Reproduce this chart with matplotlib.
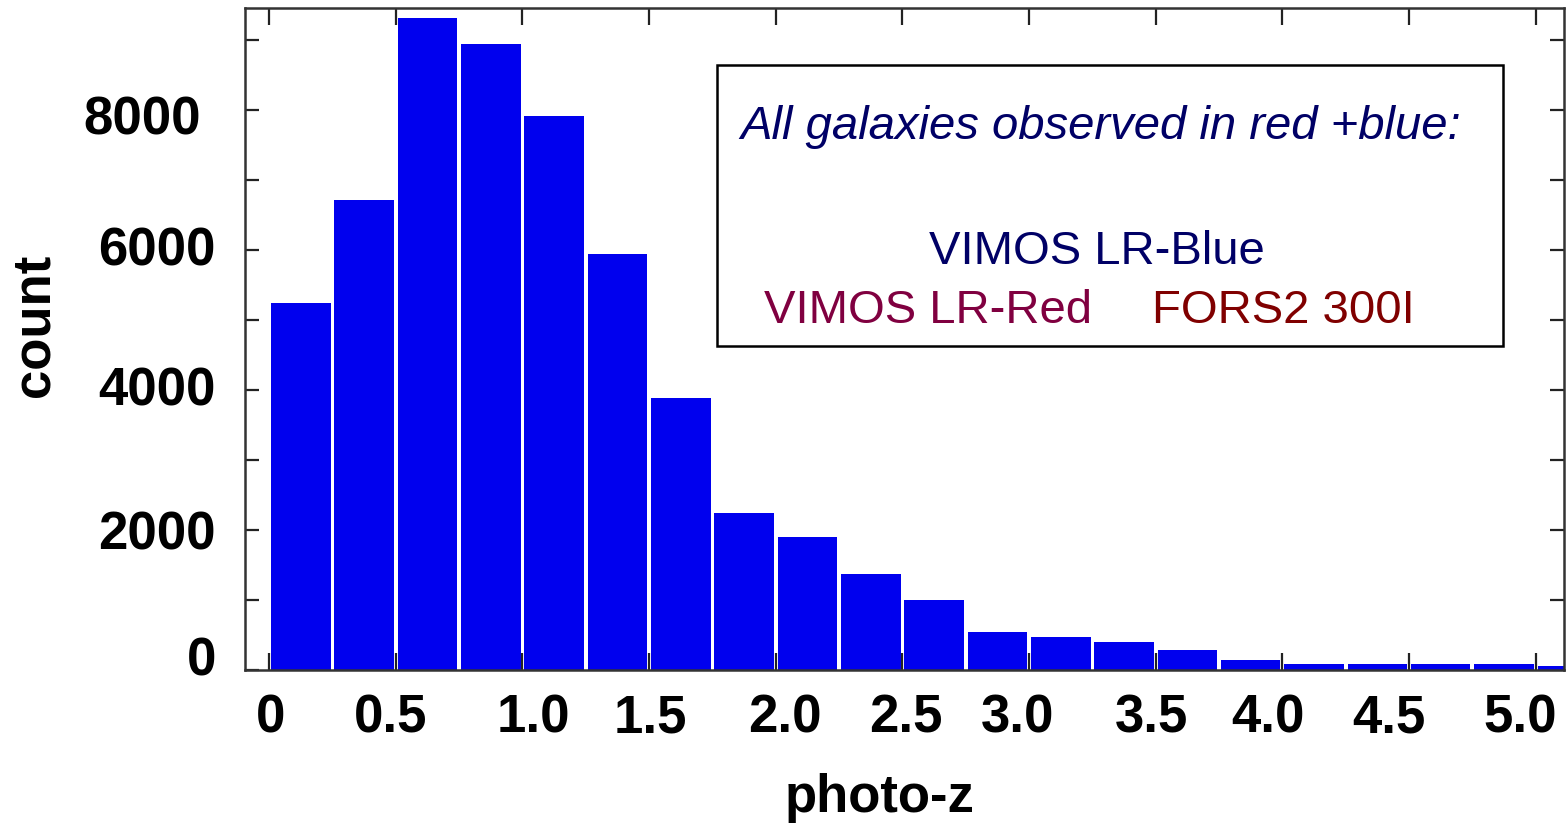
import numpy as np
import matplotlib
matplotlib.use('Agg')
import matplotlib.pyplot as plt
from matplotlib.ticker import MultipleLocator, FuncFormatter
from matplotlib.transforms import ScaledTranslation

plt.rcParams['font.family'] = ['Liberation Sans', 'DejaVu Sans']

# Photo-z histogram, bins of 0.25
bin_left = np.arange(0, 5.25, 0.25)
counts = [5240, 6710, 9320, 8950, 7920, 5950, 3890, 2250, 1900, 1370,
          1000, 540, 470, 400, 290, 140, 90, 90, 90, 90, 60]

x_ticks = [0, 0.5, 1.0, 1.5, 2.0, 2.5, 3.0, 3.5, 4.0, 4.5, 5.0]
x_tick_labels = ['0', '0.5', '1.0', '1.5', '2.0', '2.5', '3.0', '3.5', '4.0', '4.5', '5.0']

box_title = 'All galaxies observed in red +blue:'
grism_names = ['VIMOS LR-Blue', 'VIMOS LR-Red', 'FORS2 300I']
grism_colors = ['#000066', '#800040', '#800000']

fig = plt.figure(figsize=(15.68, 8.27), dpi=100)
ax = fig.add_axes([0.1563, 0.1898, 0.8412, 0.8005])

bin_w = 0.25
ax.bar(bin_left + bin_w / 2, counts, width=0.235, color='#0000EE',
       edgecolor='none', zorder=2)

ax.set_xlim(-0.095, 5.112)
ax.set_ylim(0, 9457)

ax.set_xticks(x_ticks)
ax.set_xticklabels(x_tick_labels)
ax.yaxis.set_major_locator(MultipleLocator(1000))
ax.yaxis.set_major_formatter(FuncFormatter(lambda v, p: f'{v:.0f}' if int(round(v)) % 2000 == 0 else ''))

ax.tick_params(axis='both', direction='in', right=True,
               length=10, width=1.6, color='#222222')
ax.tick_params(axis='x', top=True, length=12, labelsize=38, pad=17)
ax.tick_params(axis='y', labelsize=38, pad=21)

# hand-placed look of the tick labels (pixel nudges)
x_nudge = [1, -5, 11, 1, 9, 3, -12, -4, -14, -20, -16]
for lab, dx in zip(ax.get_xticklabels(), x_nudge):
    lab.set_fontweight('bold')
    lab.set_transform(lab.get_transform() + ScaledTranslation(dx / 100, 0, fig.dpi_scale_trans))

y_nudge = {0: (0, 14), 4000: (0, 4), 6000: (0, 4), 8000: (-15, -5)}
ax.get_yticklabels()  # make sure tick locations are current
for tick in ax.yaxis.get_major_ticks():
    lab = tick.label1
    lab.set_fontweight('bold')
    dx, dy = y_nudge.get(int(round(tick.get_loc())), (0, 0))
    lab.set_transform(lab.get_transform() + ScaledTranslation(dx / 100, dy / 100, fig.dpi_scale_trans))

for sp in ax.spines.values():
    sp.set_linewidth(1.8)
    sp.set_color('#333333')

ax.set_xlabel('photo-z', fontsize=38, fontweight='bold')
ax.xaxis.set_label_coords(0.4807, -0.155)
ax.set_ylabel('count', fontsize=38, fontweight='bold')
ax.yaxis.set_label_coords(-0.141, 0.52)

# legend-like note box
box = plt.Rectangle((717, 827 - 346), 786, 281, transform=None,
                    facecolor='white', edgecolor='black', linewidth=1.8, zorder=5)
fig.patches.append(box)
fig.text(1101 / 1568, 1 - 127 / 827, box_title, fontsize=34, style='italic',
         color=grism_colors[0], ha='center', va='center', zorder=6)
fig.text(1097 / 1568, 1 - 252 / 827, grism_names[0], fontsize=34,
         color=grism_colors[0], ha='center', va='center', zorder=6)
fig.text(928 / 1568, 1 - 311 / 827, grism_names[1], fontsize=34,
         color=grism_colors[1], ha='center', va='center', zorder=6)
fig.text(1283 / 1568, 1 - 311 / 827, grism_names[2], fontsize=34,
         color=grism_colors[2], ha='center', va='center', zorder=6)

fig.savefig('out.png', dpi=100, facecolor='white')
